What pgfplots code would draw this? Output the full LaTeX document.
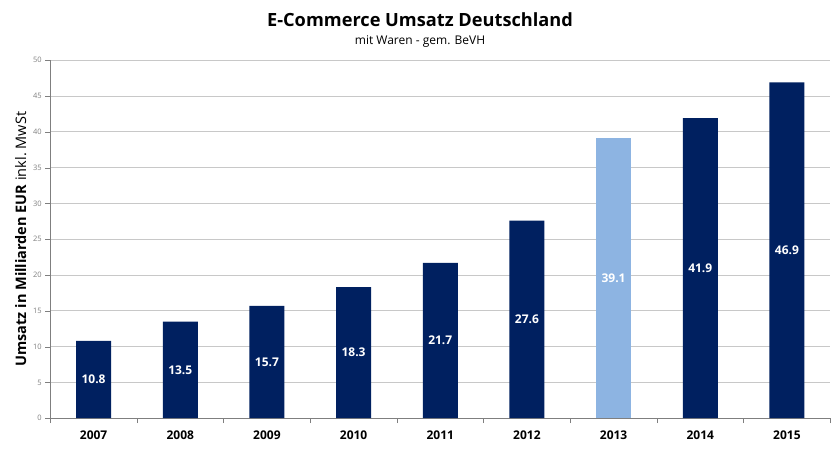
\documentclass[border=0pt]{standalone}
\usepackage{pgfplots}
\pgfplotsset{compat=1.18}
\usepackage{fontspec}
\setmainfont{Open Sans}
\definecolor{navy}{HTML}{002060}
\definecolor{lightb}{HTML}{8DB4E2}
\definecolor{gridc}{HTML}{C8C8C8}
\definecolor{tickc}{HTML}{7F7F7F}
\begin{document}
\begin{tikzpicture}[x=1pt,y=1pt]
\useasboundingbox (0,0) rectangle (840,449);
\node[font=\bfseries\fontsize{18.2}{21}\selectfont, anchor=base] at (420,422) {E-Commerce Umsatz Deutschland};
\node[font=\fontsize{12}{14}\selectfont, anchor=base] at (420,404) {mit Waren - gem. BeVH};
\begin{axis}[
  at={(58,43)}, anchor=south west,
  scale only axis, width=780pt, height=358pt,
  ybar, bar width=35pt, bar shift=0pt,
  xmin=-0.5, xmax=8.5, ymin=0, ymax=50,
  xtick={0,...,8},
  xticklabels={2007,2008,2009,2010,2011,2012,2013,2014,2015},
  minor xtick={-0.5,0.5,...,8.5},
  major x tick style={draw=none},
  minor x tick style={draw=tickc},
  minor tick length=5pt,
  ytick={0,5,...,50},
  major tick length=5pt,
  tick align=outside,
  y tick style={draw=tickc},
  ymajorgrids, grid style={gridc, line width=0.8pt},
  axis x line*=bottom, axis y line*=left,
  axis line style={tickc, line width=0.8pt},
  xticklabel style={font=\bfseries\fontsize{12}{14}\selectfont, yshift=-4pt},
  yticklabel style={font=\fontsize{7.5}{9}\selectfont, text=tickc},
  /pgf/number format/assume math mode=true,
  ylabel={\textbf{Umsatz in Milliarden EUR} inkl.\ MwSt},
  ylabel style={font=\fontsize{14.5}{17}\selectfont, at={(axis description cs:-0.038,0.5)}, anchor=center},
  visualization depends on=y \as \rawy,
  nodes near coords,
  nodes near coords style={font=\bfseries\fontsize{12}{14}\selectfont, text=white, anchor=center,
    shift={(axis direction cs:0,-\rawy/2)},
    /pgf/number format/.cd, fixed, precision=1, assume math mode=true},
]
\addplot[fill=navy, draw=none] coordinates {
  (0,10.8) (1,13.5) (2,15.7) (3,18.3) (4,21.7) (5,27.6) (7,41.9) (8,46.9)
};
\addplot[fill=lightb, draw=none] coordinates {
  (6,39.1)
};
\end{axis}
\end{tikzpicture}
\end{document}
